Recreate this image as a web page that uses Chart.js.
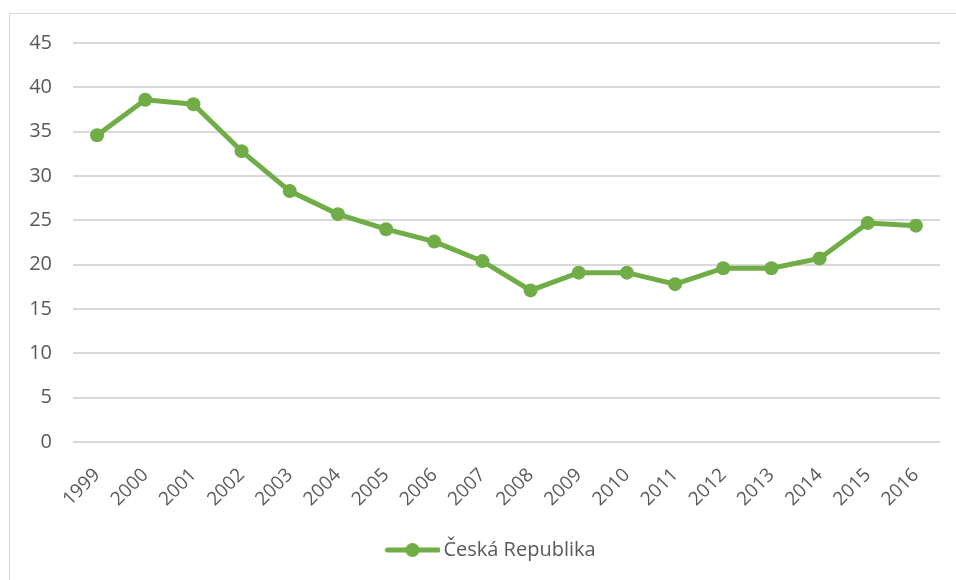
<!DOCTYPE html>
<html>
<head>
    <meta charset='utf-8'>
    <title>Česká Republika</title>
    <style>
        body { margin: 0; background: #fff; }
        #frame { position: absolute; left: 9px; top: 13px; width: 1000px; height: 600px; border: 1px solid #d9d9d9; }
        #wrap { position: absolute; left: 0; top: 0; width: 956px; height: 580px; }
    </style>
</head>
<body>
    <div id="frame"></div>
    <div id="wrap">
        <canvas id="myChart"></canvas>
    </div>

    <script src="https://cdn.jsdelivr.net/npm/chart.js"></script>
    <script>
const years = ['1999', '2000', '2001', '2002', '2003', '2004', '2005', '2006', '2007',
    '2008', '2009', '2010', '2011', '2012', '2013', '2014', '2015', '2016'];
const cz = [34.6, 38.6, 38.1, 32.8, 28.3, 25.7, 24.0, 22.6, 20.4,
    17.1, 19.1, 19.1, 17.8, 19.6, 19.6, 20.7, 24.7, 24.4];
const seriesName = 'Česká Republika';
const yTicks = [0, 5, 10, 15, 20, 25, 30, 35, 40, 45];

const green = '#70AD47';
const txt = '#595959';

// legend icon: line with a dot, like in Excel
// (blank space on the left so the legend sits a bit right of centre)
function legendIcon() {
    const c = document.createElement('canvas');
    c.width = 103; c.height = 16;
    const ctx = c.getContext('2d');
    ctx.strokeStyle = green;
    ctx.lineWidth = 5;
    ctx.lineCap = 'round';
    ctx.beginPath();
    ctx.moveTo(50, 8);
    ctx.lineTo(101, 8);
    ctx.stroke();
    ctx.fillStyle = green;
    ctx.beginPath();
    ctx.arc(75, 8, 7, 0, Math.PI * 2);
    ctx.fill();
    return c;
}

Chart.defaults.font.family = '"Open Sans", Lato, sans-serif';
Chart.defaults.color = txt;

new Chart(document.getElementById('myChart'), {
    type: 'line',
    data: {
        labels: years,
        datasets: [{
            label: seriesName,
            data: cz,
            borderColor: green,
            backgroundColor: green,
            borderWidth: 5,
            pointRadius: 7,
            pointHoverRadius: 7,
            pointBorderWidth: 0,
            tension: 0,
            fill: false
        }]
    },
    options: {
        responsive: true,
        maintainAspectRatio: false,
        animation: false,
        layout: { padding: { top: 43, right: 16, bottom: 10, left: 0 } },
        plugins: {
            tooltip: { enabled: false },
            legend: {
                position: 'bottom',
                labels: {
                    usePointStyle: true,
                    pointStyle: legendIcon(),
                    pointStyleWidth: 89,
                    font: { size: 20 },
                    color: txt,
                    padding: 4
                }
            }
        },
        scales: {
            x: {
                offset: true,
                grid: { display: false, drawTicks: false },
                border: { display: false },
                ticks: {
                    minRotation: 45,
                    maxRotation: 45,
                    autoSkip: false,
                    padding: 22,
                    font: { size: 19 },
                    color: txt
                },
                afterFit: (scale) => { scale.height = 94; }
            },
            y: {
                min: 0,
                max: 45,
                afterBuildTicks: (scale) => { scale.ticks = yTicks.map(v => ({ value: v })); },
                grid: { color: '#d9d9d9', lineWidth: 2, drawTicks: false },
                border: { display: false },
                ticks: {
                    padding: 21,
                    font: { size: 20 },
                    color: txt
                },
                afterFit: (scale) => { scale.width = 73; }
            }
        }
    }
});
    </script>
</body>
</html>
